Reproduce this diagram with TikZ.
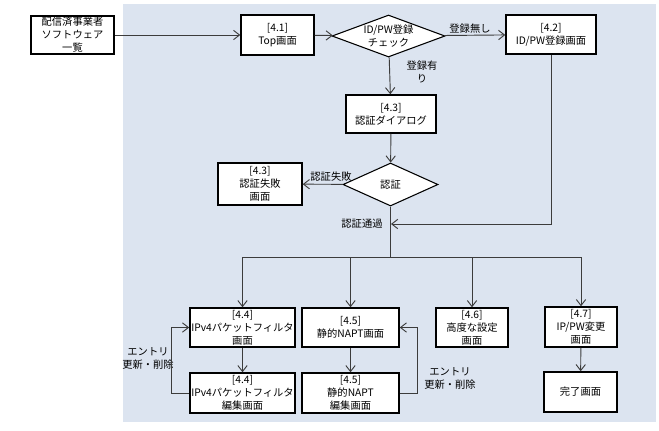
\documentclass[tikz,border=0pt]{standalone}
\usepackage{fontspec}
\setmainfont{Noto Sans CJK JP}
\usetikzlibrary{shapes.geometric,arrows.meta}
\definecolor{panelbg}{RGB}{220,228,240}
\definecolor{linegray}{RGB}{60,60,60}
\tikzset{
  size/.style 2 args={minimum width=#1*0.75pt, minimum height=#2*0.75pt},
  screen/.style={draw=black, line width=1.1pt, fill=white, align=center, inner sep=1pt},
  decision/.style={diamond, draw=black, line width=0.8pt, fill=white, inner sep=0pt, align=center},
  arr/.style={draw=linegray, line width=0.7pt, -{Straight Barb[length=4.5pt,width=7pt]}},
  ln/.style={draw=linegray, line width=0.7pt},
  note/.style={inner sep=0pt, align=center}
}
\begin{document}
\begin{tikzpicture}[x=0.75pt, y=-0.75pt, font=\fontsize{7.7pt}{9.8pt}\selectfont]
            \useasboundingbox (0,0) rectangle (659,430);
            \fill[panelbg] (123,4) rectangle (656,422);

            %Nodes
            \node[screen, size={83}{36}, line width=1.3pt] at (72.5,35) (src)  {配信済事業者\\ソフトウェア\\一覧};
            \node[screen, size={73}{40}] at (277.5,35) (top)   {[4.1]\\Top画面};
            \node[decision, size={113}{42}, label={[align=center]center:ID/PW登録\\チェック}] at (388.5,36) (chk) {};
            \node[screen, size={90}{39}] at (551,34.5)  (reg)   {[4.2]\\ID/PW登録画面};
            \node[screen, size={90}{38}] at (391,114)   (dlg)   {[4.3]\\認証ダイアログ};
            \node[decision, size={95}{43}] at (390.5,184.5) (auth) {認証};
            \node[screen, size={84}{42}] at (260,184)   (fail)  {[4.3]\\認証失敗\\画面};
            \node[screen, size={105}{39}] at (242.5,327.5) (ipv4)  {[4.4]\\IPv4パケットフィルタ\\画面};
            \node[screen, size={97}{39}]  at (350.5,327.5) (napt)  {[4.5]\\静的NAPT画面};
            \node[screen, size={72}{39}]  at (472,327.5)   (adv)   {[4.6]\\高度な設定\\画面};
            \node[screen, size={72}{40}]  at (581,327)     (pw)    {[4.7]\\IP/PW変更\\画面};
            \node[screen, size={105}{40}] at (242.5,393)   (ipv4e) {[4.4]\\IPv4パケットフィルタ\\編集画面};
            \node[screen, size={97}{40}]  at (350.5,393)   (napte) {[4.5]\\静的NAPT\\編集画面};
            \node[screen, size={73}{40}]  at (580.5,392)   (done)  {完了画面};
            \coordinate (pass) at (391,224);
            \coordinate (br)   at (390.5,257);

            %Labels
            \node[note] at (470,29)  (nreg)  {登録無し};
            \node[note] at (422,72)  (yreg)  {登録有\\り};
            \node[note] at (331,177) (nauth) {認証失敗};
            \node[note] at (362,224) (ok)    {認証通過};
            \node[note] at (148,358) (upd1)  {エントリ\\更新・削除};
            \node[note] at (450,378) (upd2)  {エントリ\\更新・削除};

            %Lines
            \draw[arr] (src) -- (top);
            \draw[arr] (top) -- (chk);
            \draw[arr] (chk) -- (reg);
            \draw[arr] (chk) -- (dlg);
            \draw[arr] (dlg) -- (auth);
            \draw[arr] (auth) -- (fail);
            \draw[arr] (reg) |- (pass);
            \draw[ln]  (auth) -- (br);
            \draw[arr] (br) -| (ipv4);
            \draw[arr] (br) -| (napt);
            \draw[arr] (br) -| (adv);
            \draw[arr] (br) -| (pw);
            \draw[arr] (ipv4) -- (ipv4e);
            \draw[arr] (napt) -- (napte);
            \draw[arr] (pw) -- (done);
            \draw[arr] (ipv4e.west) -- ++(-18,0) |- (ipv4.west);
            \draw[arr] (napte.east) -- ++(18,0) |- (napt.east);
\end{tikzpicture}
\end{document}
